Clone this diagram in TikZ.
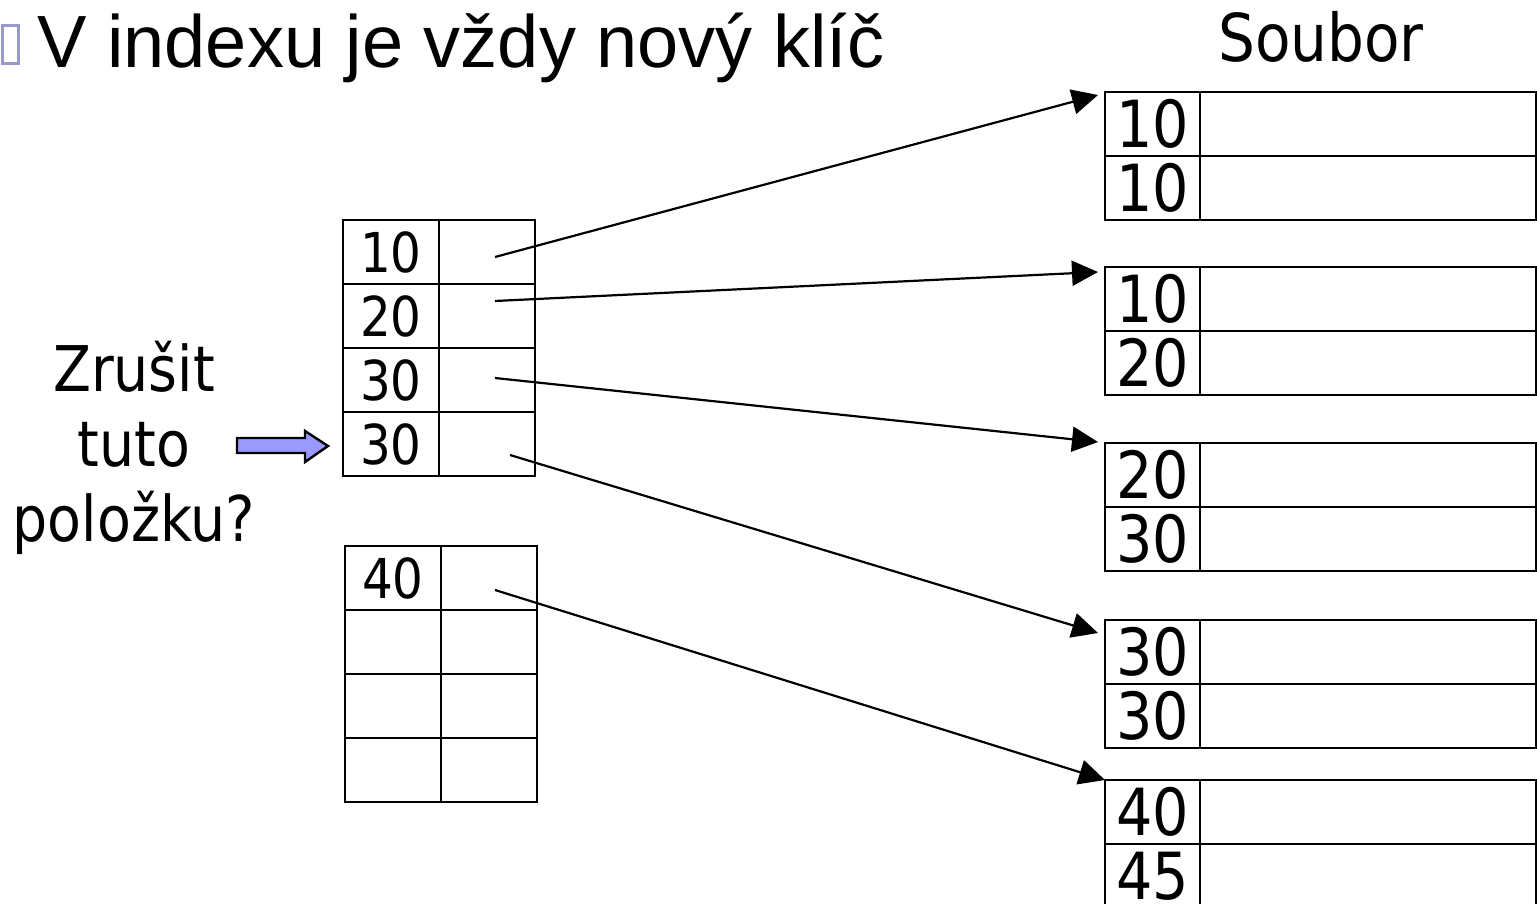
\documentclass[tikz,border=0pt]{standalone}
\usepackage{fontspec}
\setmainfont{DejaVu Sans}[FakeStretch=0.88]
\newfontfamily\titlefont{Liberation Sans}
\usetikzlibrary{arrows.meta,calc}
\definecolor{bullet}{HTML}{9999CC}
\definecolor{lav}{HTML}{9999FF}
\tikzset{
  cell/.style={draw, line width=1.2pt, inner sep=0pt, outer sep=0pt, minimum height=32pt},
  idxkey/.style={cell, minimum width=48pt, font=\fontsize{27.5}{30}\selectfont},
  idxptr/.style={cell, minimum width=48pt},
  filekey/.style={cell, minimum width=47.5pt, font=\fontsize{32.5}{34}\selectfont},
  filedat/.style={cell, minimum width=168pt},
  ptrarrow/.style={line width=1.1pt, -{Triangle[length=13pt,width=12.5pt]}},
}
\begin{document}
\begin{tikzpicture}[x=0.5pt,y=-0.5pt]
\clip (0,0) rectangle (1537,904);
% title
\draw[bullet, line width=1.5pt] (2,26) rectangle (18,64);
\node[anchor=base west, inner sep=0pt, font=\titlefont\fontsize{37}{40}\selectfont] (title) at (37,68) {V indexu je vždy nový klíč};
\node[anchor=base, inner sep=0pt, font=\fontsize{33}{36}\selectfont] (soubor) at (1321,62) {Soubor};
% label
\node[align=center, inner sep=0pt, font=\fontsize{31.5}{37.5}\selectfont] (lbl) at (134,448) {Zrušit\\tuto\\položku?};
% index block 1
\foreach \k/\y/\n in {10/252/1,20/316/2,30/380/3,30/444/4}{
  \node[idxkey] (ik\n) at (391,\y) {\k};
  \node[idxptr] (ip\n) at (487,\y) {};
}
% index block 2
\foreach \k/\y/\n in {40/578/5,{}/642/6,{}/706/7,{}/770/8}{
  \node[idxkey] (ik\n) at (393,\y) {\k};
  \node[idxptr] (ip\n) at (489,\y) {};
}
% file blocks
\foreach \k/\y/\n in {10/124/1a,10/188/1b,10/299/2a,20/363/2b,20/475/3a,30/539/3b,30/652/4a,30/716/4b,40/812/5a,45/876/5b}{
  \node[filekey] (fk\n) at (1152.5,\y) {\k};
  \node[filedat] (fd\n) at (1368,\y) {};
}
% arrow start points
\coordinate (s1) at (495,257);
\coordinate (s2) at (495,301);
\coordinate (s3) at (495,378);
\coordinate (s4) at (510,455);
\coordinate (s5) at (495,590);
\draw[ptrarrow] (s1) -- ([xshift=-3.5pt,yshift=-1.5pt]fk1a.north west);
\draw[ptrarrow] (s2) -- ([xshift=-3.5pt,yshift=-2.5pt]fk2a.north west);
\draw[ptrarrow] (s3) -- ([xshift=-3.5pt,yshift=0.5pt]fk3a.north west);
\draw[ptrarrow] (s4) -- ([xshift=-3.5pt,yshift=-6.5pt]fk4a.north west);
\draw[ptrarrow] (s5) -- (fk5a.north west);
% delete arrow
\draw[line width=1.2pt, fill=lav] (237,438) -- (305,438) -- (305,431) -- (328,446) -- (305,462) -- (305,453) -- (237,453) -- cycle;
\end{tikzpicture}
\end{document}
